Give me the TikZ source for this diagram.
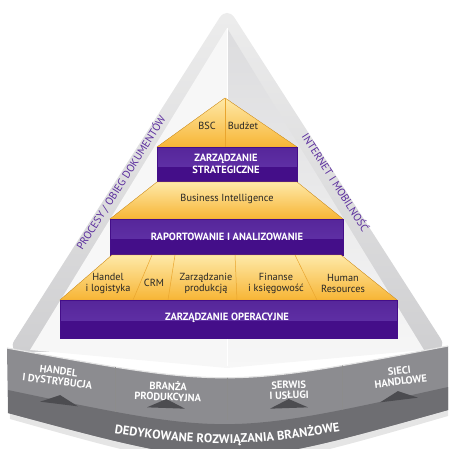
\documentclass[tikz,border=0pt]{standalone}
\usepackage{fontspec}
\setmainfont{PT Sans}
\usetikzlibrary{decorations.text}

\definecolor{sidegray}{HTML}{CFCFD1}
\definecolor{sidetop}{HTML}{EDEDED}
\definecolor{faceleft}{HTML}{F7F7F7}
\definecolor{faceright}{HTML}{DCDCDE}
\definecolor{bandmid}{HTML}{8C8C90}
\definecolor{banddark}{HTML}{6E6E72}
\definecolor{markgray}{HTML}{4C4C50}
\definecolor{tierlight}{HTML}{FEE9A8}
\definecolor{tierdark}{HTML}{F7B535}
\definecolor{tieredge}{HTML}{E9A52E}
\definecolor{purpA}{HTML}{56269A}
\definecolor{purpM}{HTML}{6536AD}
\definecolor{purpB}{HTML}{440E89}
\definecolor{sidepurple}{HTML}{5B2D9E}

\begin{document}
\begin{tikzpicture}[x=1pt, y=-1pt,
  yellowtier/.style={top color=tierlight, bottom color=tierdark, draw=tieredge, line width=0.4pt},
  purpletier/.style={top color=purpA, bottom color=purpM, draw=purpB, line width=0.4pt,
    path picture={\fill[purpB] ([yshift=-2pt]path picture bounding box.west) rectangle (path picture bounding box.south east);}},
  lowtext/.style={font=\fontsize{10.3}{11}\selectfont, text=black!85, align=center, inner sep=0pt},
  captext/.style={font=\bfseries\fontsize{10.5}{12}\selectfont, text=white, align=center, inner sep=0pt},
  sidetext/.style={font=\fontsize{10.8}{11}\selectfont, text=sidepurple, inner sep=0pt},
  coltext/.style={font=\bfseries\fontsize{10.5}{10.5}\selectfont, text=white, align=center, inner sep=0pt}]
\useasboundingbox (0,0) rectangle (454,448);
\def\lightband{(7,348) .. controls (227,388) .. (448,346) -- (448,410) .. controls (227,472) .. (8,413) -- cycle}

% outer triangle and faces
\shade[top color=sidetop, bottom color=sidegray, rounded corners=14pt] (7,352) -- (227,6) -- (448,350) -- cycle;
\fill[faceleft] (227,28) -- (30,350) -- (227,368) -- cycle;
\shade[top color=faceright, bottom color=faceleft] (227,28) -- (424,350) -- (227,368) -- cycle;
\draw[white, line width=0.8pt] (227,28) -- (227,366);

\node[sidetext, rotate=57.5] (procesy) at (121,183) {PROCESY / OBIEG DOKUMENTÓW};
\node[sidetext, rotate=-57.5] (internet) at (336,182) {INTERNET I MOBILNOŚĆ};

% bottom band
\fill[black!10] (8,355) .. controls (227,395) .. (448,353) -- (448,416) .. controls (227,480) .. (10,419) -- cycle;
\fill[bandmid] \lightband;
\fill[banddark] (8,390) .. controls (227,436) .. (448,387) -- (448,410) .. controls (227,472) .. (8,413) -- cycle;
\draw[white!80!gray, line width=1.2pt] (7,348) .. controls (227,388) .. (448,346);
\begin{scope}
  \clip (7,348) .. controls (227,388) .. (448,346) -- (448,387) .. controls (227,436) .. (8,390) -- cycle;
  \foreach \x in {115,227,342}
    \draw[black!45, line width=0.6pt] (\x,340) -- (\x,420);
\end{scope}

\foreach \n/\x/\y/\r/\t in {handel/58/376/-7/HANDEL\\I DYSTRYBUCJA,
                            branza/168/391/-2/BRANŻA\\PRODUKCYJNA,
                            serwis/289/390/2/SERWIS\\I USŁUGI,
                            sieci/400/376/7/SIECI\\HANDLOWE}
  \node[coltext, rotate=\r] (col-\n) at (\x,\y) {\t};

\foreach \x/\y/\r in {59/404/-7, 166/408/-2, 289/408/2, 399/400/7}
  \fill[markgray, shift={(\x,\y)}, rotate=\r] (-19,0) -- (0,-9) -- (19,0) -- cycle;

\path[decorate, decoration={text along path, text align=center,
  text={|\color{white}\bfseries\fontsize{12.5}{13}\selectfont|DEDYKOWANE ROZWIĄZANIA BRANŻOWE}}]
  (10,416) .. controls (227,453) .. (444,412);

% pyramid
\fill[yellowtier] (157,147) -- (225,98) -- (297,147) -- cycle;
\draw[tieredge, line width=0.5pt] (225,98) -- (225,147);
\fill[purpletier] (157,147) rectangle (297,182);
\fill[yellowtier] (157,182) -- (297,182) -- (343,219) -- (110,219) -- cycle;
\fill[purpletier] (110,219) rectangle (343,255);
\fill[yellowtier] (112,255) -- (341,255) -- (397,300) -- (60,300) -- cycle;
\foreach \a/\b in {152/133, 175/168, 235/237, 295/317}
  \draw[tieredge, line width=0.5pt] (\a,255) -- (\b,300);
\fill[purpletier] (60,300) rectangle (397,338);

\node[lowtext] (bsc) at (207,126) {BSC};
\node[lowtext] (budzet) at (243,126) {Budżet};
\node[captext] (strat) at (226,164) {ZARZĄDZANIE\\STRATEGICZNE};
\node[lowtext] (bi) at (227,199) {Business Intelligence};
\node[captext] (rap) at (227,237) {RAPORTOWANIE I ANALIZOWANIE};
\foreach \n/\x/\t in {logistyka/108/Handel\\i logistyka, crm/154/CRM,
                      prod/206/Zarządzanie\\produkcją, fin/276/Finanse\\i księgowość,
                      hr/343/Human\\Resources}
  \node[lowtext] (\n) at (\x,283) {\t};
\node[captext] (oper) at (227,318) {ZARZĄDZANIE OPERACYJNE};
\end{tikzpicture}
\end{document}
